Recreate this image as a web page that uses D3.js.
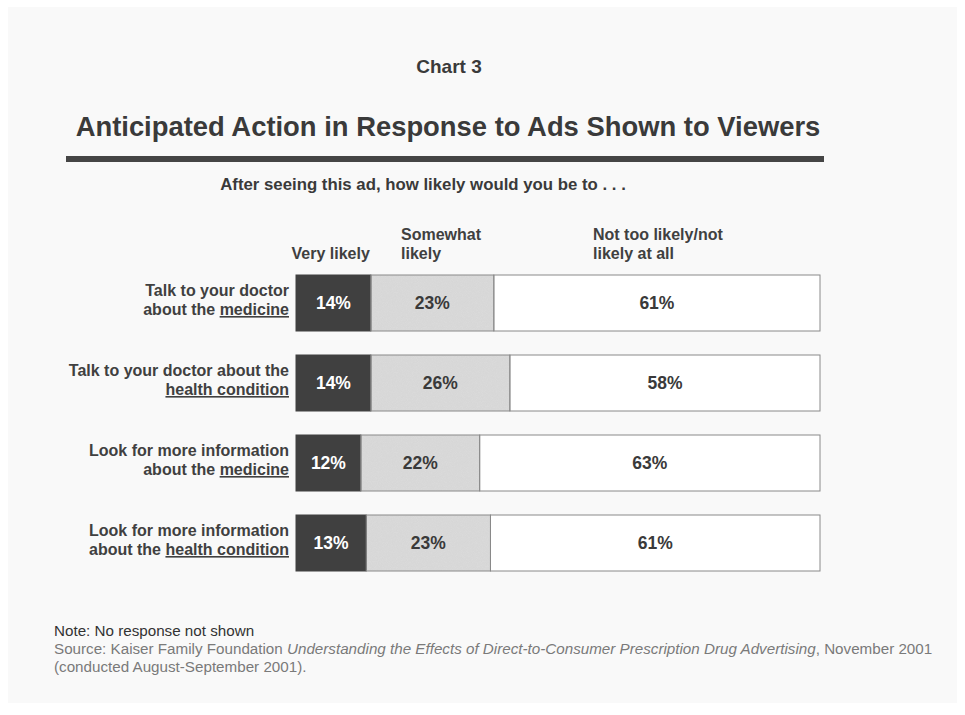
<!DOCTYPE html>
<html>
<head>
<meta charset="utf-8">
<script src="https://cdn.jsdelivr.net/npm/d3@7"></script>
<style>
  html, body { margin: 0; padding: 0; background: #ffffff; }
  svg { display: block; }
  text { font-family: "Liberation Sans", Arial, sans-serif; }
</style>
</head>
<body>
<svg id="chart" width="965" height="715"></svg>
<script>
// Survey items: each label is two lines; the underlined word is kept separately
const itemLine1 = [
  "Talk to your doctor",
  "Talk to your doctor about the",
  "Look for more information",
  "Look for more information"
];
const itemLine2Plain = ["about the ", "", "about the ", "about the "];
const itemLine2Under = ["medicine", "health condition", "medicine", "health condition"];

const seriesNames = ["Very likely", "Somewhat likely", "Not too likely/not likely at all"];
const veryLikely = [14, 14, 12, 13];
const somewhatLikely = [23, 26, 22, 23];
const notLikely = [61, 58, 63, 61];

const svg = d3.select("#chart");

// page panel
svg.append("rect").attr("x", 8).attr("y", 7).attr("width", 949).attr("height", 696)
  .attr("fill", "#f9f9f9");

// grain texture for the light segments
const defs = svg.append("defs");
const flt = defs.append("filter").attr("id", "grain").attr("x", 0).attr("y", 0)
  .attr("width", 1).attr("height", 1);
flt.append("feTurbulence").attr("type", "fractalNoise").attr("baseFrequency", 1.2)
  .attr("numOctaves", 1).attr("seed", 3).attr("result", "noise");
flt.append("feColorMatrix").attr("in", "noise").attr("type", "matrix")
  .attr("values", "0 0 0 0 0.6  0 0 0 0 0.6  0 0 0 0 0.6  0 0 0 0.5 -0.12")
  .attr("result", "dots");
flt.append("feComposite").attr("in", "dots").attr("in2", "SourceGraphic").attr("operator", "in").attr("result", "dotsIn");
flt.append("feMerge").call(m => {
  m.append("feMergeNode").attr("in", "SourceGraphic");
  m.append("feMergeNode").attr("in", "dotsIn");
});

// headings
svg.append("text").attr("x", 449).attr("y", 73).attr("text-anchor", "middle")
  .attr("font-size", 19).attr("font-weight", "bold").attr("fill", "#3a3a3a").text("Chart 3");
svg.append("text").attr("x", 448).attr("y", 136).attr("text-anchor", "middle")
  .attr("font-size", 27.4).attr("font-weight", "bold").attr("fill", "#3a3a3a")
  .text("Anticipated Action in Response to Ads Shown to Viewers");
svg.append("rect").attr("x", 66).attr("y", 156).attr("width", 758).attr("height", 6).attr("fill", "#454545");
svg.append("text").attr("x", 423).attr("y", 190).attr("text-anchor", "middle")
  .attr("font-size", 16.8).attr("font-weight", "bold").attr("fill", "#3a3a3a")
  .text("After seeing this ad, how likely would you be to . . .");

// layout
const left = 296, right = 820;
const y = d3.scaleBand().domain(d3.range(veryLikely.length)).range([275, 571]).paddingInner(0.3).paddingOuter(0);

const rows = veryLikely.map((v, i) => {
  const vals = [v, somewhatLikely[i], notLikely[i]];
  const total = d3.sum(vals);
  const x = d3.scaleLinear().domain([0, total]).range([left, right]);
  let acc = 0;
  const segs = vals.map((val, k) => {
    const s = { k, val, x0: x(acc), x1: x(acc + val) };
    acc += val;
    return s;
  });
  return { i, segs };
});

// column headers
const hdr = svg.append("g").attr("font-size", 16).attr("font-weight", "bold").attr("fill", "#404040");
hdr.append("text").attr("x", rows[0].segs[0].x1 - 1).attr("y", 259).attr("text-anchor", "end").text("Very likely");
hdr.append("text").attr("x", 401).attr("y", 240).text("Somewhat");
hdr.append("text").attr("x", 401).attr("y", 259).text("likely");
hdr.append("text").attr("x", 593).attr("y", 240).text("Not too likely/not");
hdr.append("text").attr("x", 593).attr("y", 259).text("likely at all");

const fills = ["#404040", "#dadada", "#ffffff"];
const labelFill = ["#ffffff", "#3a3a3a", "#3a3a3a"];

const rowG = svg.selectAll("g.row").data(rows).join("g").attr("class", "row")
  .attr("transform", d => `translate(0,${y(d.i)})`);

rowG.selectAll("rect.seg").data(d => d.segs).join("rect").attr("class", "seg")
  .attr("x", s => s.x0).attr("y", 0)
  .attr("width", s => s.x1 - s.x0).attr("height", y.bandwidth())
  .attr("fill", s => fills[s.k])
  .attr("filter", s => s.k === 1 ? "url(#grain)" : null);

rowG.selectAll("rect.edge").data(d => d.segs).join("rect").attr("class", "edge")
  .attr("x", s => s.x0).attr("y", 0)
  .attr("width", s => s.x1 - s.x0).attr("height", y.bandwidth())
  .attr("fill", "none")
  .attr("stroke", s => s.k === 0 ? "#404040" : "#8a8a8a")
  .attr("stroke-width", 1);

rowG.selectAll("text.val").data(d => d.segs).join("text").attr("class", "val")
  .attr("x", s => (s.x0 + s.x1) / 2)
  .attr("y", y.bandwidth() / 2 + 6)
  .attr("text-anchor", "middle")
  .attr("font-size", 17.5).attr("font-weight", "bold")
  .attr("fill", s => labelFill[s.k])
  .text(s => s.val + "%");

// item labels
const lab = svg.append("g").attr("font-size", 16).attr("font-weight", "bold").attr("fill", "#404040");
veryLikely.forEach((_, i) => {
  const top = y(i);
  lab.append("text").attr("x", 289).attr("y", top + 21).attr("text-anchor", "end").text(itemLine1[i]);
  const t = lab.append("text").attr("x", 289).attr("y", top + 40).attr("text-anchor", "end");
  if (itemLine2Plain[i]) t.append("tspan").attr("xml:space", "preserve").text(itemLine2Plain[i]);
  t.append("tspan").style("text-decoration", "underline").text(itemLine2Under[i]);
});

// notes
const notes = svg.append("g").attr("font-size", 15.2);
notes.append("text").attr("x", 54).attr("y", 636).attr("fill", "#333").text("Note: No response not shown");
const src = notes.append("text").attr("x", 54).attr("y", 654).attr("fill", "#7a7a7a");
src.append("tspan").text("Source:  Kaiser Family Foundation ");
src.append("tspan").attr("font-style", "italic").text("Understanding the Effects of Direct-to-Consumer Prescription Drug Advertising");
src.append("tspan").text(", November 2001");
notes.append("text").attr("x", 54).attr("y", 672).attr("fill", "#7a7a7a").text("(conducted August-September 2001).");
</script>
</body>
</html>
